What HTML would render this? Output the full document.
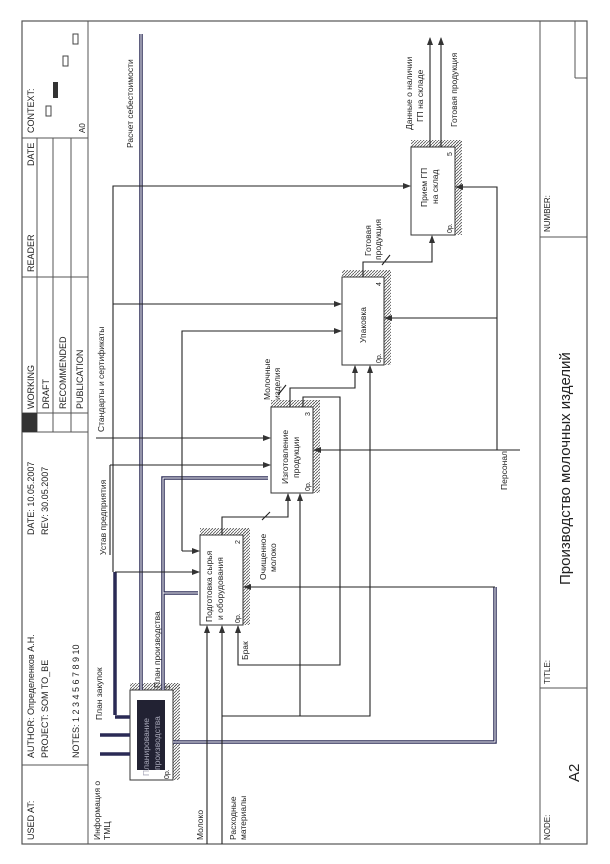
<!DOCTYPE html>
<html><head><meta charset="utf-8"><style>
html,body{margin:0;padding:0;background:#fff;}
svg{display:block;}
text{font-family:"Liberation Sans",sans-serif;fill:#222;}
</style></head><body>
<svg width="610" height="864" viewBox="0 0 610 864" xmlns="http://www.w3.org/2000/svg">
<defs>
<pattern id="h" width="3" height="3" patternUnits="userSpaceOnUse"><path d="M0 3L3 0" stroke="#555" stroke-width="0.8"/></pattern>
<marker id="a" markerWidth="8" markerHeight="8" refX="7" refY="4" orient="auto" markerUnits="userSpaceOnUse"><path d="M0 1L8 4L0 7z" fill="#333"/></marker>
</defs>
<rect x="22" y="21" width="565" height="823" fill="none" stroke="#555" stroke-width="1.2"/>
<line x1="88" y1="21" x2="88" y2="844" stroke="#555"/>
<line x1="22" y1="765" x2="88" y2="765" stroke="#555"/>
<line x1="22" y1="432" x2="88" y2="432" stroke="#555"/>
<line x1="22" y1="277" x2="88" y2="277" stroke="#555"/>
<line x1="22" y1="138" x2="88" y2="138" stroke="#555"/>
<line x1="37" y1="138" x2="37" y2="432" stroke="#555"/>
<line x1="53" y1="138" x2="53" y2="432" stroke="#555"/>
<line x1="71" y1="138" x2="71" y2="432" stroke="#555"/>
<line x1="22" y1="413" x2="88" y2="413" stroke="#555"/>
<rect x="22" y="413" width="15" height="19" fill="#333"/>
<g font-size="9">
<text transform="translate(34,840) rotate(-90)">USED AT:</text>
<text transform="translate(34,758) rotate(-90)">AUTHOR:  Определенков А.Н.</text>
<text transform="translate(48,758) rotate(-90)">PROJECT:  SOM TO_BE</text>
<text transform="translate(79,758) rotate(-90)">NOTES:  1  2  3  4  5  6  7  8  9  10</text>
<text transform="translate(34,535) rotate(-90)">DATE: 10.05.2007</text>
<text transform="translate(48,535) rotate(-90)">REV:   30.05.2007</text>
<text transform="translate(34,409) rotate(-90)">WORKING</text>
<text transform="translate(49,409) rotate(-90)">DRAFT</text>
<text transform="translate(66,409) rotate(-90)">RECOMMENDED</text>
<text transform="translate(83,409) rotate(-90)">PUBLICATION</text>
<text transform="translate(34,272) rotate(-90)">READER</text>
<text transform="translate(34,166) rotate(-90)">DATE</text>
<text transform="translate(34,133) rotate(-90)">CONTEXT:</text>
<text transform="translate(85,133) rotate(-90)" font-size="8">A0</text>
</g>
<rect x="46" y="106" width="5" height="10" fill="none" stroke="#444"/>
<rect x="53" y="82" width="5" height="16" fill="#333"/>
<rect x="63" y="56" width="5" height="10" fill="none" stroke="#444"/>
<rect x="73" y="34" width="5" height="10" fill="none" stroke="#444"/>
<line x1="540" y1="21" x2="540" y2="844" stroke="#555"/>
<line x1="540" y1="688" x2="587" y2="688" stroke="#555"/>
<line x1="540" y1="237" x2="587" y2="237" stroke="#555"/>
<line x1="575" y1="21" x2="575" y2="78" stroke="#555"/>
<line x1="575" y1="78" x2="587" y2="78" stroke="#555"/>
<text transform="translate(550,840) rotate(-90)" font-size="8">NODE:</text>
<text transform="translate(579,782) rotate(-90)" font-size="15">A2</text>
<text transform="translate(550,684) rotate(-90)" font-size="8">TITLE:</text>
<text transform="translate(570,585) rotate(-90)" font-size="15">Производство молочных изделий</text>
<text transform="translate(550,232) rotate(-90)" font-size="8">NUMBER:</text>

<g stroke="#333" stroke-width="1">
<rect x="130" y="683" width="50" height="7" fill="url(#h)" stroke="none"/><rect x="173" y="683" width="7" height="97" fill="url(#h)" stroke="none"/>
<rect x="130" y="690" width="43" height="90" fill="#fff"/>
<rect x="137" y="700" width="28" height="70" fill="#223" stroke="none"/>
<rect x="200" y="528" width="50" height="7" fill="url(#h)" stroke="none"/><rect x="243" y="528" width="7" height="97" fill="url(#h)" stroke="none"/>
<rect x="200" y="535" width="43" height="90" fill="#fff"/>
<rect x="271" y="400" width="49" height="7" fill="url(#h)" stroke="none"/><rect x="313" y="400" width="7" height="93" fill="url(#h)" stroke="none"/>
<rect x="271" y="407" width="42" height="86" fill="#fff"/>
<rect x="342" y="270" width="49" height="7" fill="url(#h)" stroke="none"/><rect x="384" y="270" width="7" height="95" fill="url(#h)" stroke="none"/>
<rect x="342" y="277" width="42" height="88" fill="#fff"/>
<rect x="411" y="140" width="51" height="7" fill="url(#h)" stroke="none"/><rect x="455" y="140" width="7" height="95" fill="url(#h)" stroke="none"/>
<rect x="411" y="147" width="44" height="88" fill="#fff"/>
</g>
<g font-size="8.5">
<text transform="translate(149,776) rotate(-90)" style="fill:#aab">Планирование</text>
<text transform="translate(160,770) rotate(-90)" style="fill:#aab">производства</text>
<text transform="translate(170,689) rotate(-90)" font-size="7">1</text>
<text transform="translate(169,779) rotate(-90)" font-size="7">0р.</text>
<text transform="translate(212,622) rotate(-90)">Подготовка сырья</text>
<text transform="translate(223,620) rotate(-90)">и оборудования</text>
<text transform="translate(240,544) rotate(-90)" font-size="7">2</text>
<text transform="translate(240,623) rotate(-90)" font-size="7">0р.</text>
<text transform="translate(288,484) rotate(-90)">Изготовление</text>
<text transform="translate(299,478) rotate(-90)">продукции</text>
<text transform="translate(310,416) rotate(-90)" font-size="7">3</text>
<text transform="translate(310,491) rotate(-90)" font-size="7">0р.</text>
<text transform="translate(366,343) rotate(-90)">Упаковка</text>
<text transform="translate(381,286) rotate(-90)" font-size="7">4</text>
<text transform="translate(381,363) rotate(-90)" font-size="7">0р.</text>
<text transform="translate(427,207) rotate(-90)">Прием ГП</text>
<text transform="translate(438,204) rotate(-90)">на склад</text>
<text transform="translate(452,156) rotate(-90)" font-size="7">5</text>
<text transform="translate(452,233) rotate(-90)" font-size="7">0р.</text>
</g>

<g stroke="#2a2a55" stroke-width="3.5" fill="none">
<path d="M141 690V34"/>
<path d="M163 690V478H268"/>
<path d="M163 593H198"/>
<path d="M115 715V572"/>
<path d="M173 742H495V587"/>
<path d="M100 754H130M100 735H130M115 717H130"/>
</g>
<g stroke="#fff" stroke-width="1" fill="none">
<path d="M141 690V34"/><path d="M163 690V478H268"/><path d="M163 593H198"/><path d="M173 742H495V587"/>
</g>
<g stroke="#222" stroke-width="1.1" fill="none">
<path d="M113 572V186H410" marker-end="url(#a)"/>
<path d="M113 304H341" marker-end="url(#a)"/>
<path d="M182 551V331H341" marker-end="url(#a)"/>
<path d="M182 551H199" marker-end="url(#a)"/>
<path d="M115 572H199" marker-end="url(#a)"/>
<path d="M96 438H270" marker-end="url(#a)"/>
<path d="M110 465H270" marker-end="url(#a)"/>
<path d="M110 555V465"/>
<path d="M222 535V517H288V494" marker-end="url(#a)"/>
<path d="M290 407V388H355V366" marker-end="url(#a)"/>
<path d="M363 277V262H432V236" marker-end="url(#a)"/>
<path d="M430 147V38" marker-end="url(#a)"/>
<path d="M441 147V38" marker-end="url(#a)"/>
<path d="M303 407V397H340V665H238V626" marker-end="url(#a)"/>
<path d="M207 844V626" marker-end="url(#a)"/>
<path d="M222 844V626" marker-end="url(#a)"/>
<path d="M222 716H370V366" marker-end="url(#a)"/>
<path d="M300 716V494" marker-end="url(#a)"/>
<path d="M520 450H314" marker-end="url(#a)"/>
<path d="M497 450V187H456" marker-end="url(#a)"/>
<path d="M497 318H385" marker-end="url(#a)"/>
<path d="M495 587H244" marker-end="url(#a)"/>
<path d="M262 520L270 512M278 395L286 385M382 265L390 255"/>
</g>
<g font-size="8.5">
<text transform="translate(133,148) rotate(-90)">Расчет себестоимости</text>
<text transform="translate(104,432) rotate(-90)">Стандарты и сертификаты</text>
<text transform="translate(106,555) rotate(-90)">Устав  предприятия</text>
<text transform="translate(102,720) rotate(-90)">План закупок</text>
<text transform="translate(160,688) rotate(-90)">План производства</text>
<text transform="translate(100,840) rotate(-90)">Информация о</text>
<text transform="translate(110,840) rotate(-90)">ТМЦ</text>
<text transform="translate(203,840) rotate(-90)">Молоко</text>
<text transform="translate(236,840) rotate(-90)">Расходные</text>
<text transform="translate(246,840) rotate(-90)">материалы</text>
<text transform="translate(248,660) rotate(-90)">Брак</text>
<text transform="translate(266,580) rotate(-90)">Очищенное</text>
<text transform="translate(276,572) rotate(-90)">молоко</text>
<text transform="translate(270,400) rotate(-90)">Молочные</text>
<text transform="translate(280,400) rotate(-90)">изделия</text>
<text transform="translate(371,256) rotate(-90)">Готовая</text>
<text transform="translate(381,260) rotate(-90)">продукция</text>
<text transform="translate(412,130) rotate(-90)">Данные о наличии</text>
<text transform="translate(423,122) rotate(-90)">ГП на складе</text>
<text transform="translate(457,127) rotate(-90)">Готовая продукция</text>
<text transform="translate(507,490) rotate(-90)">Персонал</text>
</g>
</svg>
</body></html>
